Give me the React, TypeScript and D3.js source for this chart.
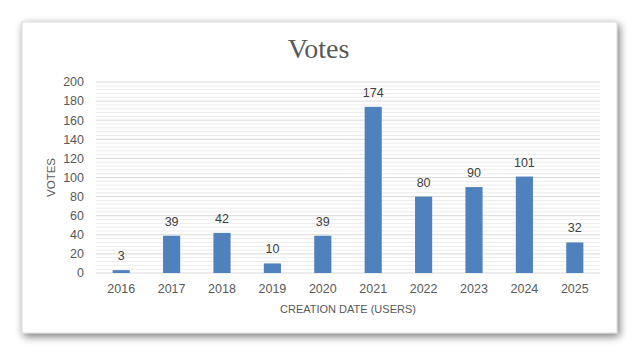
import React from "react";
import * as d3 from "d3";

const categories = ["2016", "2017", "2018", "2019", "2020", "2021", "2022", "2023", "2024", "2025"];
const votes = [3, 39, 42, 10, 39, 174, 80, 90, 101, 32];
const yTicks = [0, 20, 40, 60, 80, 100, 120, 140, 160, 180, 200];
const title = "Votes";
const xTitle = "CREATION DATE (USERS)";
const yTitle = "VOTES";

export default function App() {
  const W = 640, H = 356;
  const card = { x: 22, y: 22, w: 595, h: 311 };
  const plot = { left: 96, right: 600, top: 82, bottom: 273 };
  const x = d3.scaleBand<string>().domain(categories).range([plot.left, plot.right]).paddingInner(0.66).paddingOuter(0.33);
  const y = d3.scaleLinear().domain([0, 200]).range([plot.bottom, plot.top]);
  const minor = d3.range(0, 201, 4).filter((v) => v % 20 !== 0);
  const font = "'Liberation Sans', Arial, sans-serif";
  return (
    <svg width={W} height={H} style={{ position: "absolute", left: 0, top: 0 }} xmlns="http://www.w3.org/2000/svg">
      <defs>
        <filter id="sh" x="-10%" y="-10%" width="120%" height="125%">
          <feGaussianBlur in="SourceAlpha" stdDeviation="4.5" />
          <feOffset dx="2" dy="3" result="b" />
          <feComponentTransfer>
            <feFuncA type="linear" slope="0.55" />
          </feComponentTransfer>
          <feMerge>
            <feMergeNode />
            <feMergeNode in="SourceGraphic" />
          </feMerge>
        </filter>
      </defs>
      <rect x={0} y={0} width={W} height={H} fill="#ffffff" />
      <rect x={card.x} y={card.y} width={card.w} height={card.h} fill="#ffffff" stroke="#d0d0d0" strokeWidth={0.8} filter="url(#sh)" />
      <text x={card.x + card.w / 2 - 1} y={58} textAnchor="middle" fontFamily="'Liberation Serif', 'DejaVu Serif', serif" fontSize={28} fill="#595959">{title}</text>
      {minor.map((v) => (
        <line key={"m" + v} x1={plot.left} x2={plot.right} y1={y(v)} y2={y(v)} stroke="#ececec" strokeWidth={1} />
      ))}
      {yTicks.map((v) => (
        <line key={"g" + v} x1={plot.left} x2={plot.right} y1={y(v)} y2={y(v)} stroke="#d9d9d9" strokeWidth={1} />
      ))}
      {yTicks.map((v) => (
        <text key={"t" + v} x={84} y={y(v)} dy="0.35em" textAnchor="end" fontFamily={font} fontSize={12.5} fill="#595959">{v}</text>
      ))}
      {categories.map((c, i) => (
        <g key={c}>
          <rect x={x(c)} y={y(votes[i])} width={x.bandwidth()} height={y(0) - y(votes[i])} fill="#4F81BD" />
          <text x={(x(c) as number) + x.bandwidth() / 2} y={y(votes[i]) - 10} textAnchor="middle" fontFamily={font} fontSize={12.5} fill="#404040">{votes[i]}</text>
          <text x={(x(c) as number) + x.bandwidth() / 2} y={289} dy="0.35em" textAnchor="middle" fontFamily={font} fontSize={12.5} fill="#595959">{c}</text>
        </g>
      ))}
      <text x={(plot.left + plot.right) / 2} y={313} textAnchor="middle" fontFamily={font} fontSize={11} fill="#595959">{xTitle}</text>
      <text transform={`translate(51,${(plot.top + plot.bottom) / 2}) rotate(-90)`} dy="0.35em" textAnchor="middle" fontFamily={font} fontSize={11.5} fill="#595959">{yTitle}</text>
    </svg>
  );
}
